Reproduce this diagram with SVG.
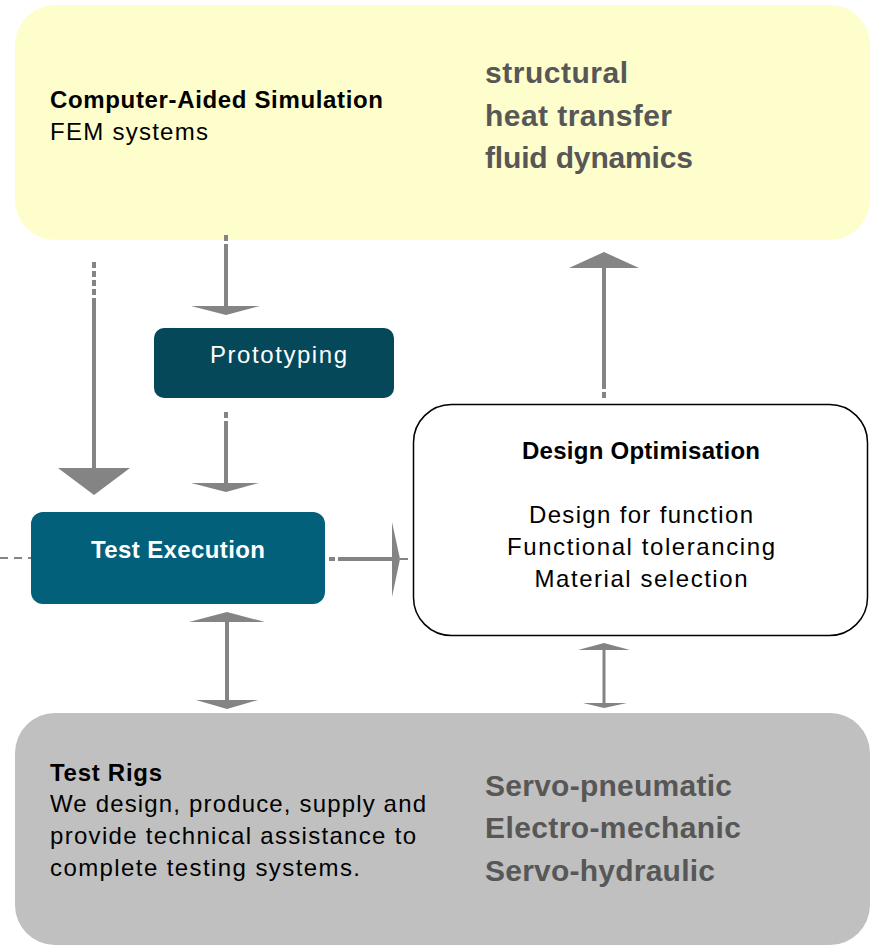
<svg xmlns="http://www.w3.org/2000/svg" width="870" height="947" viewBox="0 0 870 947">
<style>
text{font-family:"Liberation Sans",Arial,sans-serif;}
.t{font-size:24px;fill:#000;}
.b{font-weight:bold;}
.big{font-size:30px;font-weight:bold;fill:#575757;}
.w{fill:#fff;}
.ln{stroke:#848484;stroke-width:4;fill:none;}
.ds{stroke:#848484;stroke-width:4;fill:none;stroke-dasharray:6 3;}
.hd{fill:#848484;}
.thin{stroke:#848484;stroke-width:2;fill:none;stroke-dasharray:8 6;}
</style>
<rect width="870" height="947" fill="#fff"/>
<g id="simulation">
<rect x="15" y="5" width="855" height="235" rx="40" fill="#fefdcc"/>
<text class="t b" x="50" y="108" textLength="333" lengthAdjust="spacing">Computer-Aided Simulation</text>
<text class="t" x="50" y="140" textLength="158" lengthAdjust="spacing">FEM systems</text>
<text class="big" x="485" y="83" textLength="143" lengthAdjust="spacing">structural</text>
<text class="big" x="485" y="126" textLength="187" lengthAdjust="spacing">heat transfer</text>
<text class="big" x="485" y="168" textLength="208" lengthAdjust="spacing">fluid dynamics</text>
</g>
<g id="prototyping">
<rect x="154" y="328" width="240" height="70" rx="10" fill="#04485a"/>
<text class="t w" x="278.5" y="363" text-anchor="middle" textLength="137" lengthAdjust="spacing">Prototyping</text>
</g>
<g id="test-execution">
<rect x="31" y="512" width="294" height="92" rx="12" fill="#03607a"/>
<text class="t b w" x="178" y="558" text-anchor="middle" textLength="174" lengthAdjust="spacing">Test Execution</text>
</g>
<g id="design-optimisation">
<rect x="413.5" y="404.5" width="454" height="231" rx="38" fill="#fff" stroke="#000" stroke-width="1.5"/>
<text class="t b" x="641" y="459" text-anchor="middle" textLength="238" lengthAdjust="spacing">Design Optimisation</text>
<text class="t" x="641" y="523" text-anchor="middle" textLength="224" lengthAdjust="spacing">Design for function</text>
<text class="t" x="641" y="555" text-anchor="middle" textLength="268" lengthAdjust="spacing">Functional tolerancing</text>
<text class="t" x="641" y="587" text-anchor="middle" textLength="213" lengthAdjust="spacing">Material selection</text>
</g>
<g id="test-rigs">
<rect x="15" y="713" width="855" height="232" rx="40" fill="#c0c0c0"/>
<text class="t b" x="50" y="781" textLength="112" lengthAdjust="spacing">Test Rigs</text>
<text class="t" x="50" y="812" textLength="376" lengthAdjust="spacing">We design, produce, supply and</text>
<text class="t" x="50" y="844" textLength="366" lengthAdjust="spacing">provide technical assistance to</text>
<text class="t" x="50" y="876" textLength="310" lengthAdjust="spacing">complete testing systems.</text>
<text class="big" x="485" y="796" textLength="247" lengthAdjust="spacing">Servo-pneumatic</text>
<text class="big" x="485" y="838" textLength="256" lengthAdjust="spacing">Electro-mechanic</text>
<text class="big" x="485" y="881" textLength="230" lengthAdjust="spacing">Servo-hydraulic</text>
</g>
<g id="connectors">
<path class="ds" d="M94 262V296"/>
<path class="ln" d="M94 298V470"/>
<polygon class="hd" points="58,468 130,468 94,495"/>
<path class="ds" d="M226 235V248"/>
<path class="ln" d="M226 248V306"/>
<polygon class="hd" points="191,306 260,306 226,315"/>
<path class="ds" d="M226 412V425"/>
<path class="ln" d="M226 425V484"/>
<polygon class="hd" points="191,483 259,483 226,492"/>
<path class="thin" d="M0 558H31"/>
<path class="ds" d="M329 559H341"/>
<path class="ln" d="M341 559H395"/>
<polygon class="hd" points="392,522 400,559 392,597"/>
<path class="thin" d="M400 559H413"/>
<path class="ds" d="M604 398V384"/>
<path class="ln" d="M604 384V266"/>
<polygon class="hd" points="569,268 639,268 604,252"/>
<path class="ln" d="M227 620V702"/>
<polygon class="hd" points="189,622 265,622 227,612"/>
<polygon class="hd" points="196,700 258,700 227,709"/>
<path class="ln" d="M604 648V705" style="stroke-width:3"/>
<polygon class="hd" points="578,650 630,650 604,643"/>
<polygon class="hd" points="583,703 627,703 604,708"/>
</g>
</svg>
